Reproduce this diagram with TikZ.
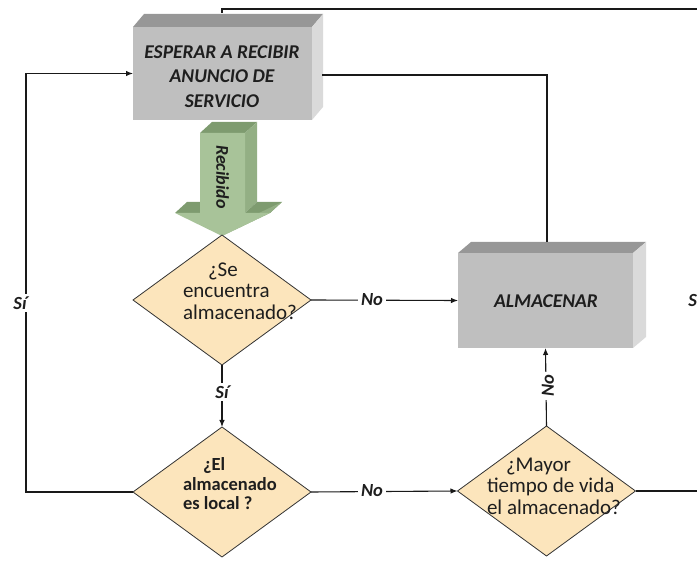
\documentclass[tikz,border=0pt]{standalone}
\usepackage{fontspec}
\setmainfont{Carlito}
\usetikzlibrary{shapes.geometric,arrows.meta,calc}

\definecolor{boxfront}{HTML}{BFBFBF}
\definecolor{boxtop}{HTML}{979797}
\definecolor{boxside}{HTML}{DADADA}
\definecolor{diafill}{HTML}{FCE5BC}
\definecolor{grfront}{HTML}{A8C399}
\definecolor{grtop}{HTML}{7E9B6F}
\definecolor{grside}{HTML}{93AF84}
\definecolor{ink}{HTML}{1E1E1E}

\begin{document}
\begin{tikzpicture}[x=1pt,y=-1pt,
  every node/.style={inner sep=0pt,outer sep=0pt},
  procbox/.style={rectangle,fill=boxfront},
  proctext/.style={align=center,text=ink,
    font=\fontsize{19.5}{24.5}\selectfont\bfseries\itshape},
  decision/.style={diamond,draw=black!80,line width=0.8pt,fill=diafill,
    minimum width=178pt,minimum height=130pt},
  qtext/.style={align=left,anchor=west,text=ink,
    font=\fontsize{21}{21.5}\selectfont},
  lbl/.style={fill=white,inner sep=3pt,text=ink,
    font=\fontsize{18.5}{20}\selectfont\bfseries\itshape},
  flow/.style={line width=1.1pt,draw=black!90},
  arr/.style={flow,-{Latex[length=7pt,width=5.5pt]}}]

\useasboundingbox (0,0) rectangle (697,561);
\clip (0,0) rectangle (697,561);

% process boxes (front faces)
\node[procbox,minimum width=179pt,minimum height=93pt] (esp) at (222.5,73.5) {};
\node[procbox,minimum width=175pt,minimum height=95pt] (alm) at (545.5,300.5) {};

% extruded faces of the boxes
\fill[boxtop] (esp.north west) -- ++(11,-13) -- ($(esp.north east)+(11,-13)$)
  -- (esp.north east) -- cycle;
\fill[boxside] (esp.north east) -- ++(11,-13) -- ($(esp.south east)+(11,-13)$)
  -- (esp.south east) -- cycle;
\fill[boxtop] (alm.north west) -- ++(13,-11) -- ($(alm.north east)+(13,-11)$)
  -- (alm.north east) -- cycle;
\fill[boxside] (alm.north east) -- ++(13,-11) -- ($(alm.south east)+(13,-11)$)
  -- (alm.south east) -- cycle;

% box captions
\node[proctext] (esptext) at (222,76.5) {ESPERAR A RECIBIR\\ANUNCIO DE\\SERVICIO};
\node[proctext] (almtext) at (546,301) {ALMACENAR};

% green block arrow "Recibido"
\fill[grtop] (200,133) -- (212,122) -- (257,122) -- (245,133) -- cycle;
\fill[grside] (245,133) -- (257,122) -- (257,202) -- (245,213) -- cycle;
\fill[grtop] (175,213) -- (187,202) -- (212,202) -- (200,213) -- cycle;
\fill[grtop] (245,213) -- (257,202) -- (282,202) -- (270,213) -- cycle;
\fill[grside] (270,213) -- (282,202) -- (234,225) -- (222,236) -- cycle;
\fill[grfront] (200,133) -- (245,133) -- (245,213) -- (270,213) -- (222,236)
  -- (175,213) -- (200,213) -- cycle;
\node[rotate=-90,text=ink,font=\fontsize{18}{20}\selectfont\bfseries\itshape]
  (rec) at (222.5,177) {Recibido};

% decisions
\node[decision] (d1) at (222,300) {};
\node[decision] (d2) at (222,492) {};
\node[decision] (d3) at (546.5,491) {};

\node[qtext] (q1) at (183,291)
  {\hspace*{25pt}¿Se\\encuentra\\almacenado?};
\node[qtext,font=\fontsize{18.5}{19.5}\selectfont\bfseries] (q2) at (183,484)
  {\hspace*{20pt}¿El\\almacenado\\es local ?};
\node[qtext] (q3) at (487,486)
  {\hspace*{19pt}¿Mayor\\tiempo de vida\\el almacenado?};

% connection points on the extruded faces
\coordinate (espright) at (322,75);
\coordinate (esptop) at (222,13);
\coordinate (almtop) at (547,242);
\coordinate (leftrail) at (26,0);
\coordinate (rightrail) at (699,9);

% connectors
\draw[arr] (d2.west) -| (leftrail |- esp.west) -- (esp.west);
\node[lbl] (s1) at (20,303) {Sí};

\draw[arr] (d1.east) -- (alm.west);
\node[lbl] (n1) at (372,300) {No};

\draw[arr] (d1.south) -- (d2.north);
\node[lbl] (s2) at (222,392) {Sí};

\draw[arr] (d2.east) -- (d3.west);
\node[lbl] (n2) at (372,491) {No};

\draw[arr] (d3.north) -- (alm.south);
\node[lbl,rotate=90] (n3) at (548,386) {No};

\draw[flow] (almtop) |- (espright);

\draw[flow] (d3.east) -| (rightrail) -| (esptop);
\node[lbl] (s3) at (695,300) {Sí};

\end{tikzpicture}
\end{document}
